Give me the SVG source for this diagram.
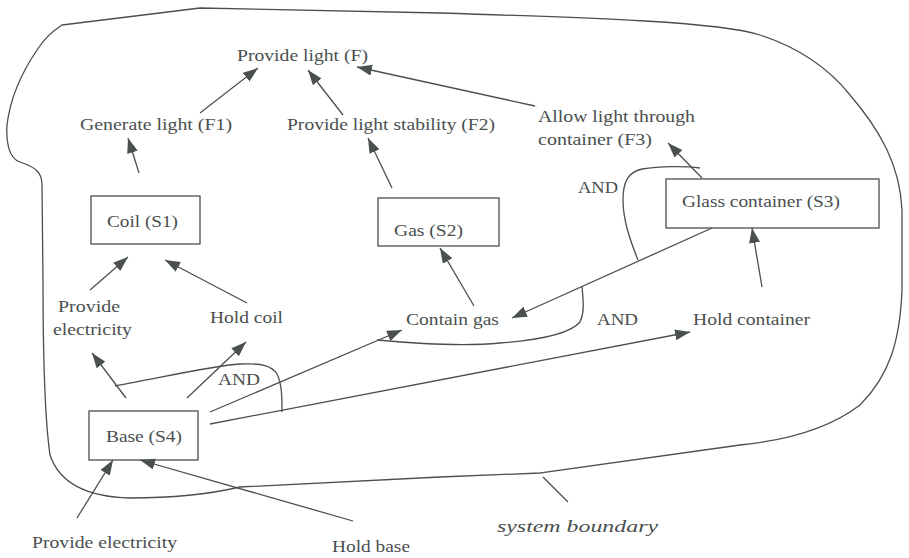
<svg xmlns="http://www.w3.org/2000/svg" width="909" height="558" viewBox="0 0 909 558">
<style>
text{font-family:"Liberation Serif","Times New Roman",serif;font-size:17px;fill:#4a4f4f}
.box{fill:none;stroke:#4a4f4f;stroke-width:1.3}
.c{fill:none;stroke:#4a4f4f;stroke-width:1.3}
.a{fill:none;stroke:#4a4f4f;stroke-width:1.3;marker-end:url(#ah)}
</style>
<defs>
<marker id="ah" markerUnits="userSpaceOnUse" markerWidth="16" markerHeight="12" refX="15" refY="5.5" orient="auto">
<path d="M0,0 L15,5.5 L0,11 Z" fill="#4a4f4f"/>
</marker>
</defs>
<rect width="909" height="558" fill="#ffffff"/>
<g id="boundary">
<path class="c" d="M62,25 L200,8 L440,13 C600,18 720,22 760,35 C800,48 830,70 850,95 C880,130 900,165 902,210 L902,290 C900,340 890,375 860,405 C830,428 790,440 740,445 C700,450 620,462 540,473 L440,477 L240,487 C210,494 170,498 130,498 C90,497 60,485 50,455 C45,420 43,350 43,280 L42,185 C42,172 35,167 20,162 C8,158 6,140 7,125 C10,100 20,75 37,50 C42,42 48,34 62,25 Z"/>
<line class="c" x1="543" y1="477" x2="568" y2="502"/>
<text x="497" y="532" font-style="italic" textLength="161" lengthAdjust="spacingAndGlyphs">system boundary</text>
</g>
<g id="connectors">
<line class="a" x1="200" y1="113" x2="258" y2="68"/>
<line class="a" x1="343" y1="115" x2="308" y2="70"/>
<line class="a" x1="535" y1="106" x2="357" y2="67"/>
<line class="a" x1="139" y1="173" x2="128" y2="138"/>
<line class="a" x1="392" y1="188" x2="368" y2="138"/>
<line class="a" x1="702" y1="178" x2="668" y2="143"/>
<line class="a" x1="90" y1="290" x2="128" y2="257"/>
<line class="a" x1="247" y1="303" x2="165" y2="260"/>
<line class="a" x1="474" y1="306" x2="440" y2="248"/>
<line class="a" x1="762" y1="287" x2="752" y2="228"/>
<line class="a" x1="712" y1="228" x2="512" y2="318"/>
<line class="a" x1="126" y1="398" x2="92" y2="353"/>
<line class="a" x1="187" y1="398" x2="246" y2="342"/>
<line class="a" x1="210" y1="412" x2="402" y2="330"/>
<line class="a" x1="210" y1="424" x2="690" y2="332"/>
<line class="a" x1="77" y1="518" x2="113" y2="460"/>
<line class="a" x1="353" y1="521" x2="140" y2="460"/>
<path class="c" d="M115,386 C160,378 210,366 240,364 C262,363 272,366 277,374 C282,384 282,398 282,412"/>
<path class="c" d="M377,340 C420,344 470,346 500,343 C540,340 570,334 580,322 C585,312 583,300 582,286"/>
<path class="c" d="M638,260 C630,240 623,220 623,200 C623,182 628,172 642,169 C660,166 685,166 700,168"/>
<text x="218" y="385" textLength="42" lengthAdjust="spacingAndGlyphs">AND</text>
<text x="597" y="325" textLength="41" lengthAdjust="spacingAndGlyphs">AND</text>
<text x="578" y="193" textLength="40" lengthAdjust="spacingAndGlyphs">AND</text>
</g>
<g id="F"><text x="237" y="61" textLength="131" lengthAdjust="spacingAndGlyphs">Provide light (F)</text></g>
<g id="F1"><text x="80" y="130" textLength="152" lengthAdjust="spacingAndGlyphs">Generate light (F1)</text></g>
<g id="F2"><text x="287" y="130" textLength="208" lengthAdjust="spacingAndGlyphs">Provide light stability (F2)</text></g>
<g id="F3"><text x="538" y="122" textLength="157" lengthAdjust="spacingAndGlyphs">Allow light through</text><text x="538" y="145" textLength="114" lengthAdjust="spacingAndGlyphs">container (F3)</text></g>
<g id="S1"><rect class="box" x="91" y="196" width="109" height="48"/><text x="107" y="227" textLength="71" lengthAdjust="spacingAndGlyphs">Coil (S1)</text></g>
<g id="S2"><rect class="box" x="378" y="198" width="121" height="48"/><text x="394" y="236" textLength="69" lengthAdjust="spacingAndGlyphs">Gas (S2)</text></g>
<g id="S3"><rect class="box" x="666" y="179" width="213" height="49"/><text x="682" y="207" textLength="158" lengthAdjust="spacingAndGlyphs">Glass container (S3)</text></g>
<g id="S4"><rect class="box" x="89" y="411" width="109" height="49"/><text x="106" y="442" textLength="76" lengthAdjust="spacingAndGlyphs">Base (S4)</text></g>
<g id="provide-electricity-1"><text x="58" y="312" textLength="62" lengthAdjust="spacingAndGlyphs">Provide</text><text x="53" y="335" textLength="79" lengthAdjust="spacingAndGlyphs">electricity</text></g>
<g id="hold-coil"><text x="210" y="323" textLength="73" lengthAdjust="spacingAndGlyphs">Hold coil</text></g>
<g id="contain-gas"><text x="406" y="325" textLength="93" lengthAdjust="spacingAndGlyphs">Contain gas</text></g>
<g id="hold-container"><text x="693" y="325" textLength="117" lengthAdjust="spacingAndGlyphs">Hold container</text></g>
<g id="provide-electricity-2"><text x="32" y="548" textLength="145" lengthAdjust="spacingAndGlyphs">Provide electricity</text></g>
<g id="hold-base"><text x="332" y="552" textLength="78" lengthAdjust="spacingAndGlyphs">Hold base</text></g>
</svg>
